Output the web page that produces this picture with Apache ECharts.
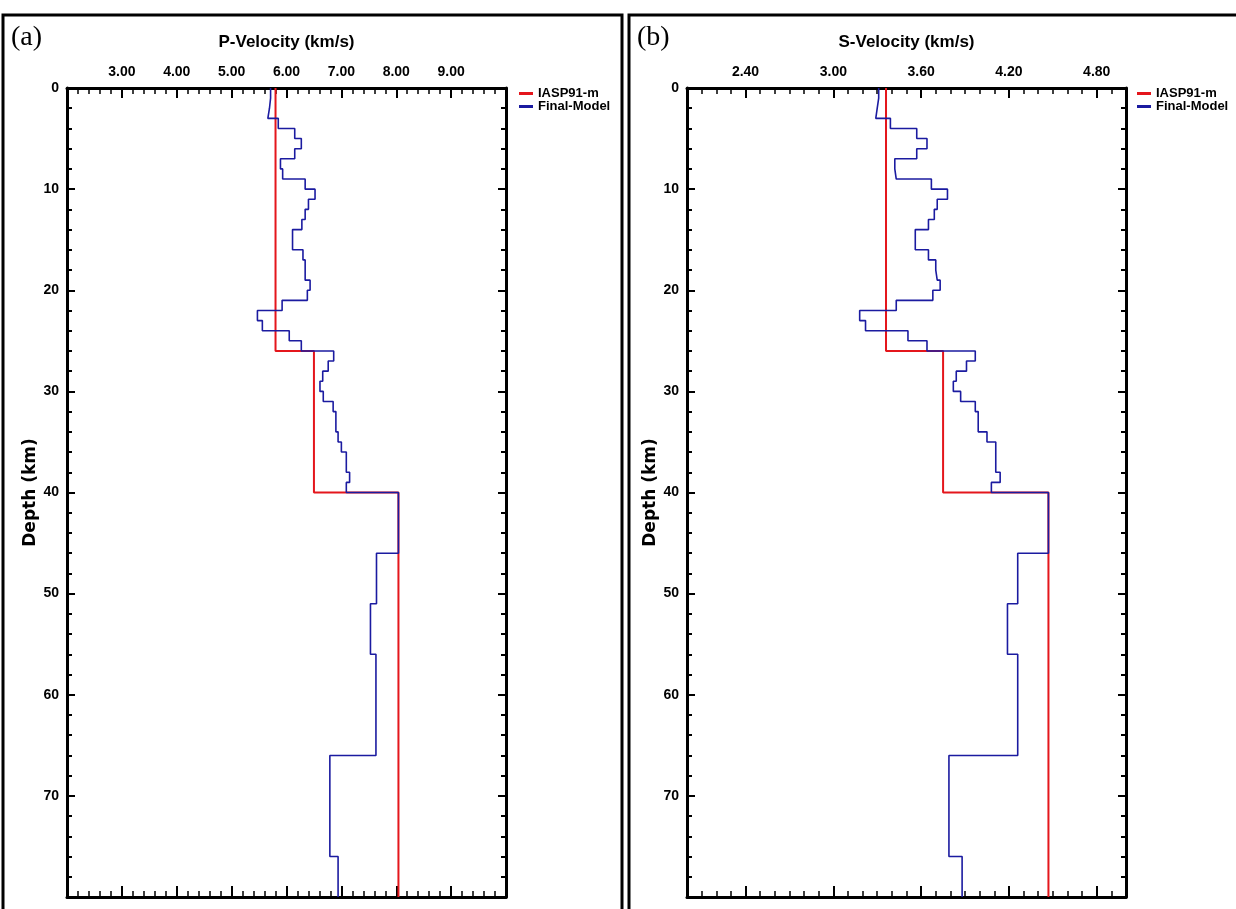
<!DOCTYPE html>
<html>
<head>
<meta charset="utf-8">
<script src="https://cdn.jsdelivr.net/npm/echarts@6/dist/echarts.min.js"></script>
<style>
html, body { margin: 0; padding: 0; background: #fff; }
#chart { width: 1236px; height: 909px; }
</style>
</head>
<body>
<div id="chart"></div>
<script>
// layer tops (km) of the final model, last layer runs to modelBottom
var layerTops = [0, 1, 2, 3, 4, 5, 6, 7, 8, 9, 10, 11, 12, 13, 14, 15, 16, 17, 18, 19,
    20, 21, 22, 23, 24, 25, 26, 27, 28, 29, 30, 31, 32, 33, 34, 35, 36, 37, 38, 39,
    40, 46, 51, 56, 66, 76];
var modelBottom = 80;

var vpFinal = [5.71, 5.69, 5.66, 5.85, 6.15, 6.27, 6.15, 5.89, 5.93, 6.34,
    6.52, 6.40, 6.34, 6.28, 6.11, 6.11, 6.30, 6.34, 6.34, 6.43,
    6.38, 5.92, 5.47, 5.56, 6.05, 6.27, 6.86, 6.76, 6.66, 6.61,
    6.67, 6.85, 6.90, 6.90, 6.94, 7.00, 7.09, 7.09, 7.15, 7.09,
    8.04, 7.64, 7.53, 7.63, 6.79, 6.94];

var vsFinal = [3.31, 3.30, 3.29, 3.39, 3.57, 3.64, 3.57, 3.42, 3.43, 3.67,
    3.78, 3.71, 3.69, 3.65, 3.56, 3.56, 3.65, 3.70, 3.71, 3.73,
    3.68, 3.43, 3.18, 3.22, 3.51, 3.64, 3.97, 3.91, 3.84, 3.82,
    3.87, 3.97, 3.99, 3.99, 4.05, 4.11, 4.11, 4.11, 4.14, 4.08,
    4.47, 4.26, 4.19, 4.26, 3.79, 3.88];

// IASP91 reference (modified)
var iaspTops = [0, 26, 40];
var vpIasp = [5.80, 6.50, 8.04];
var vsIasp = [3.36, 3.75, 4.47];

// axis ticks
var pTicks = [3, 4, 5, 6, 7, 8, 9];
var sTicks = [2.4, 3.0, 3.6, 4.2, 4.8];

var FONT = 'Liberation Sans';

// layer list -> step profile points [velocity, depth]
function profile(tops, vals, bottom) {
    var pts = [];
    for (var i = 0; i < tops.length; i++) {
        var bot = i + 1 < tops.length ? tops[i + 1] : bottom;
        pts.push([vals[i], tops[i]]);
        pts.push([vals[i], bot]);
    }
    return pts;
}

function steps(min, max, step) {
    var out = [];
    var n = Math.round((max - min) / step);
    for (var i = 0; i <= n; i++) out.push(+(min + i * step).toFixed(3));
    return out;
}

// 4 x axes per panel: top major (labels), top minor, bottom major, bottom minor
function xAxes(grid, min, max, majors, minorStep, title) {
    var minors = steps(min, max, minorStep);
    var base = { gridIndex: grid, type: 'value', min: min, max: max, splitLine: { show: false } };
    return [
        Object.assign({}, base, {
            position: 'top',
            name: title, nameLocation: 'middle', nameGap: 37,
            nameTextStyle: { fontFamily: FONT, fontWeight: 'bold', fontSize: 17, color: '#000' },
            axisLine: { show: true, lineStyle: { color: '#000', width: 3 } },
            axisTick: { show: true, inside: true, length: 10, customValues: majors, lineStyle: { color: '#000', width: 2 } },
            axisLabel: { show: true, margin: 9, customValues: majors, fontFamily: FONT, fontWeight: 'bold', fontSize: 14, color: '#000',
                formatter: function (v) { return v.toFixed(2); } }
        }),
        Object.assign({}, base, {
            position: 'top',
            axisLine: { show: false },
            axisTick: { show: true, inside: true, length: 6, customValues: minors, lineStyle: { color: '#000', width: 1.5 } },
            axisLabel: { show: false }
        }),
        Object.assign({}, base, {
            position: 'bottom',
            axisLine: { show: true, lineStyle: { color: '#000', width: 3 } },
            axisTick: { show: true, inside: true, length: 11, customValues: majors, lineStyle: { color: '#000', width: 2 } },
            axisLabel: { show: false }
        }),
        Object.assign({}, base, {
            position: 'bottom',
            axisLine: { show: false },
            axisTick: { show: true, inside: true, length: 6, customValues: minors, lineStyle: { color: '#000', width: 1.5 } },
            axisLabel: { show: false }
        })
    ];
}

function yAxes(grid) {
    var base = {
        gridIndex: grid, type: 'value', inverse: true, min: 0, max: modelBottom, interval: 10,
        splitLine: { show: false },
        axisLine: { show: true, lineStyle: { color: '#000', width: 3 } },
        axisTick: { show: true, inside: true, length: 8, lineStyle: { color: '#000', width: 2 } },
        minorTick: { show: true, splitNumber: 5, length: 5, lineStyle: { color: '#000', width: 2 } }
    };
    return [
        Object.assign({}, base, {
            position: 'left',
            name: 'Depth (km)', nameLocation: 'middle', nameGap: 27, nameRotate: 90,
            nameTextStyle: { fontFamily: 'DejaVu Sans', fontWeight: 'bold', fontSize: 17, color: '#000' },
            axisLabel: { show: true, margin: 8, fontFamily: FONT, fontWeight: 'bold', fontSize: 14, color: '#000',
                showMaxLabel: false }
        }),
        Object.assign({}, base, {
            position: 'right',
            axisLabel: { show: false }
        })
    ];
}

function legend(left) {
    return {
        left: left, top: 82, orient: 'vertical',
        data: ['IASP91-m', 'Final-Model'],
        icon: 'rect', itemWidth: 14, itemHeight: 3, itemGap: 0,
        textStyle: { fontFamily: FONT, fontWeight: 'bold', fontSize: 13, lineHeight: 12, color: '#000' }
    };
}

var RED = '#e4161c';
var BLUE = '#1b1ba0';

function lineSeries(name, color, width, xi, yi, data, z) {
    return {
        name: name, type: 'line', xAxisIndex: xi, yAxisIndex: yi,
        data: data, showSymbol: false, symbol: 'none', z: z,
        color: color,
        lineStyle: { color: color, width: width },
        animation: false
    };
}

var chart = echarts.init(document.getElementById('chart'));
chart.setOption({
    animation: false,
    backgroundColor: '#fff',
    grid: [
        { left: 67, top: 88, width: 439, height: 809 },
        { left: 687, top: 88, width: 439, height: 809 }
    ],
    xAxis: xAxes(0, 2, 10, pTicks, 0.2, 'P-Velocity (km/s)')
        .concat(xAxes(1, 2, 5, sTicks, 0.1, 'S-Velocity (km/s)')),
    yAxis: yAxes(0).concat(yAxes(1)),
    legend: [legend(514), legend(1132)],
    graphic: [
        { type: 'rect', shape: { x: 3, y: 15, width: 619, height: 920 }, style: { fill: null, stroke: '#000', lineWidth: 3 } },
        { type: 'rect', shape: { x: 629, y: 15, width: 620, height: 920 }, style: { fill: null, stroke: '#000', lineWidth: 3 } },
        { type: 'text', left: 11, top: 24, style: { text: '(a)', font: '28px "Liberation Serif"', fill: '#000' } },
        { type: 'text', left: 637, top: 24, style: { text: '(b)', font: '28px "Liberation Serif"', fill: '#000' } }
    ],
    series: [
        lineSeries('IASP91-m', RED, 2, 0, 0, profile(iaspTops, vpIasp, modelBottom), 2),
        lineSeries('Final-Model', BLUE, 1.6, 0, 0, profile(layerTops, vpFinal, modelBottom), 3),
        lineSeries('IASP91-m', RED, 2, 4, 2, profile(iaspTops, vsIasp, modelBottom), 2),
        lineSeries('Final-Model', BLUE, 1.6, 4, 2, profile(layerTops, vsFinal, modelBottom), 3)
    ]
});
</script>
</body>
</html>
